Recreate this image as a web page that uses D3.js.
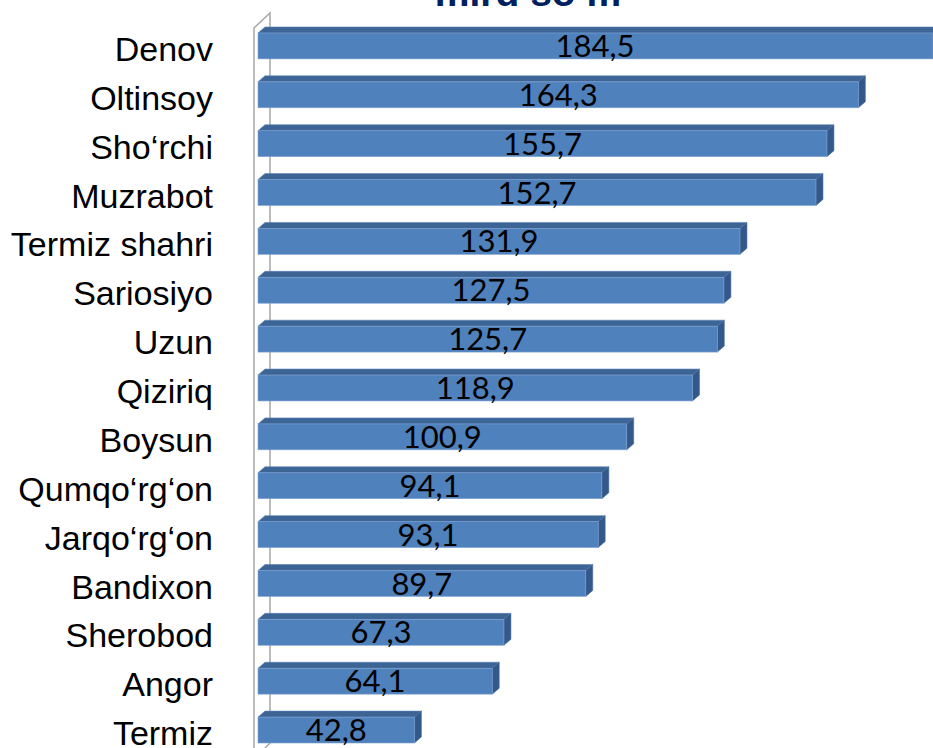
<!DOCTYPE html>
<html>
<head>
<meta charset="utf-8">
<script src="https://cdn.jsdelivr.net/npm/d3@7"></script>
<style>
  html, body { margin: 0; padding: 0; background: #fff; overflow: hidden; }
</style>
</head>
<body>
<div id="chart"></div>
<script>
const districts = ["Denov", "Oltinsoy", "Sho‘rchi", "Muzrabot", "Termiz shahri", "Sariosiyo", "Uzun",
  "Qiziriq", "Boysun", "Qumqo‘rg‘on", "Jarqo‘rg‘on", "Bandixon", "Sherobod", "Angor", "Termiz"];
const values = [184.5, 164.3, 155.7, 152.7, 131.9, 127.5, 125.7, 118.9, 100.9, 94.1, 93.1, 89.7, 67.3, 64.1, 42.8];
const titleText = "mlrd so‘m";

const width = 933, height = 748;
const depthX = 7, depthY = 6;

const svg = d3.select("#chart").append("svg")
  .attr("width", width)
  .attr("height", height);

const x = d3.scaleLinear().domain([0, 200]).range([258, 258 + 200 * 3.654]);
const y = d3.scaleBand().domain(districts).range([33, 743]).paddingInner(0.47).paddingOuter(0);

const fmt = v => d3.format(".1f")(v).replace(".", ",");

// title (cut off at the top, as in the original)
svg.append("text")
  .attr("x", 528)
  .attr("y", 6)
  .attr("text-anchor", "middle")
  .attr("font-family", "Liberation Sans, Arial, sans-serif")
  .attr("font-weight", "bold")
  .attr("font-size", 39)
  .attr("fill", "#002060")
  .text(titleText);

// 3D wall lines
const x0 = x(0);
const yTop = y.range()[0];
svg.append("path")
  .attr("d", `M${x0 - 4},${height} L${x0 - 4},${yTop - 5} L${x0 + 12},${yTop - 20} L${x0 + 12},${height - 5} L${x0 + 7},${height}`)
  .attr("fill", "none")
  .attr("stroke", "#a6a6a6")
  .attr("stroke-width", 1.5);

const data = districts.map((d, i) => ({ name: d, value: values[i] }));
const h = y.bandwidth();

const bars = svg.selectAll("g.bar")
  .data(data)
  .join("g")
  .attr("class", "bar");

// top face
bars.append("path")
  .attr("d", d => {
    const y0 = y(d.name), x1 = x(d.value);
    return `M${x0},${y0} L${x0 + depthX},${y0 - depthY} L${x1 + depthX},${y0 - depthY} L${x1},${y0} Z`;
  })
  .attr("fill", "#3c6494")
  .attr("stroke", "#5b82b5")
  .attr("stroke-width", 0.6);

// side face
bars.append("path")
  .attr("d", d => {
    const y0 = y(d.name), x1 = x(d.value);
    return `M${x1},${y0} L${x1 + depthX},${y0 - depthY} L${x1 + depthX},${y0 + h - depthY} L${x1},${y0 + h} Z`;
  })
  .attr("fill", "#33588a")
  .attr("stroke", "#4a6fa0")
  .attr("stroke-width", 0.6);

// front face
bars.append("rect")
  .attr("x", x0)
  .attr("y", d => y(d.name))
  .attr("width", d => x(d.value) - x0)
  .attr("height", h)
  .attr("fill", "#4f81bd")
  .attr("stroke", "#7ea2d2")
  .attr("stroke-width", 0.6);

// value labels
bars.append("text")
  .attr("x", d => (x0 + x(d.value)) / 2)
  .attr("y", d => y(d.name) + 24)
  .attr("text-anchor", "middle")
  .attr("font-family", "Lato, 'Open Sans', sans-serif")
  .attr("font-size", 31)
  .attr("fill", "#000")
  .text(d => fmt(d.value));

// category labels
svg.selectAll("text.cat")
  .data(data)
  .join("text")
  .attr("class", "cat")
  .attr("x", x0 - 45)
  .attr("y", d => y(d.name) + 28)
  .attr("text-anchor", "end")
  .attr("font-family", "Liberation Sans, Arial, sans-serif")
  .attr("font-size", 34)
  .attr("fill", "#000")
  .text(d => d.name);
</script>
</body>
</html>
